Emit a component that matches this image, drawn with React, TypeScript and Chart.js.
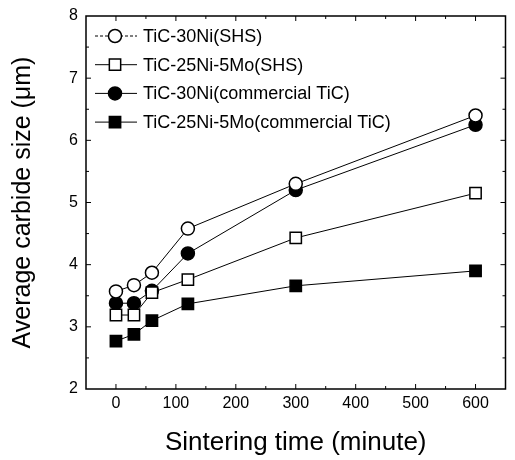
import { useEffect, useRef } from 'react';
import { Chart, registerables } from 'chart.js';

Chart.register(...registerables);

const times = [0, 30, 60, 120, 300, 600];
const ni30Shs = [3.57, 3.67, 3.87, 4.58, 5.3, 6.4];
const mo5Shs = [3.19, 3.19, 3.55, 3.76, 4.43, 5.15];
const ni30Com = [3.38, 3.38, 3.58, 4.18, 5.2, 6.25];
const mo5Com = [2.77, 2.88, 3.1, 3.37, 3.66, 3.9];
const seriesLabels = [
  'TiC-30Ni(SHS)',
  'TiC-25Ni-5Mo(SHS)',
  'TiC-30Ni(commercial TiC)',
  'TiC-25Ni-5Mo(commercial TiC)',
];
const xTicks = [0, 100, 200, 300, 400, 500, 600];
const yTicks = [2, 3, 4, 5, 6, 7, 8];

const FONT = '"Liberation Sans", Arial, Helvetica, sans-serif';

const styles = [
  { style: 'circle', fill: '#ffffff', r: 6.5 },
  { style: 'rect', fill: '#ffffff', r: 8 },
  { style: 'circle', fill: '#000000', r: 6.5 },
  { style: 'rect', fill: '#000000', r: 8 },
];

function drawMarker(ctx: CanvasRenderingContext2D, style: string, fill: string, r: number, x: number, y: number) {
  ctx.save();
  ctx.beginPath();
  if (style === 'circle') {
    ctx.arc(x, y, r, 0, Math.PI * 2);
  } else {
    const s = Math.SQRT1_2 * r;
    ctx.rect(x - s, y - s, 2 * s, 2 * s);
  }
  ctx.fillStyle = fill;
  ctx.fill();
  ctx.lineWidth = 1.5;
  ctx.strokeStyle = '#000';
  ctx.stroke();
  ctx.restore();
}

const framePlugin = {
  id: 'frame',
  afterDatasetsDraw(chart: any) {
    const ctx: CanvasRenderingContext2D = chart.ctx;
    const { left, right, top, bottom } = chart.chartArea;
    const xs = chart.scales.x;
    const ys = chart.scales.y;
    ctx.save();
    ctx.strokeStyle = '#000';
    ctx.lineWidth = 1.5;
    ctx.strokeRect(left, top, right - left, bottom - top);
    ctx.lineWidth = 1;
    ctx.beginPath();
    for (let v = -50; v <= 650; v += 50) {
      const px = xs.getPixelForValue(v);
      if (px <= left + 1 || px >= right - 1) continue;
      const len = v % 100 === 0 ? 5 : 3;
      ctx.moveTo(px, bottom);
      ctx.lineTo(px, bottom - len);
      ctx.moveTo(px, top);
      ctx.lineTo(px, top + len);
    }
    for (let v = 2; v <= 8; v += 0.5) {
      const py = ys.getPixelForValue(v);
      if (py <= top + 1 || py >= bottom - 1) continue;
      const len = Number.isInteger(v) ? 5 : 3;
      ctx.moveTo(left, py);
      ctx.lineTo(left + len, py);
      ctx.moveTo(right, py);
      ctx.lineTo(right - len, py);
    }
    ctx.stroke();

    // legend
    ctx.font = `18px ${FONT}`;
    ctx.fillStyle = '#000';
    ctx.textBaseline = 'middle';
    ctx.textAlign = 'left';
    seriesLabels.forEach((lab, i) => {
      const y = top + 20 + i * 28.7;
      const x0 = left + 9;
      const x1 = left + 51;
      const mx = left + 29;
      ctx.beginPath();
      ctx.lineWidth = 1;
      ctx.strokeStyle = '#000';
      if (i === 0) ctx.setLineDash([3, 2]);
      ctx.moveTo(x0, y);
      ctx.lineTo(x1, y);
      ctx.stroke();
      ctx.setLineDash([]);
      drawMarker(ctx, styles[i].style, styles[i].fill, styles[i].r, mx, y);
      ctx.fillText(lab, left + 57, y + 1);
    });
    ctx.restore();
  },
};

export default function App() {
  const ref = useRef<HTMLCanvasElement>(null);
  useEffect(() => {
    document.body.style.margin = '0';
    const series = [ni30Shs, mo5Shs, ni30Com, mo5Com];
    const chart = new Chart(ref.current!, {
      type: 'line',
      data: {
        datasets: series.map((vals, i) => ({
          label: seriesLabels[i],
          data: times.map((t, j) => ({ x: t, y: vals[j] })),
          borderColor: '#000',
          borderWidth: 1,
          backgroundColor: styles[i].fill,
          pointBackgroundColor: styles[i].fill,
          pointBorderColor: '#000',
          pointBorderWidth: 1.5,
          pointStyle: styles[i].style as any,
          pointRadius: styles[i].r,
          tension: 0,
          fill: false,
        })),
      },
      options: {
        animation: false,
        responsive: true,
        maintainAspectRatio: false,
        layout: { padding: { top: 16, right: 2, left: 0, bottom: 0 } },
        plugins: { legend: { display: false }, tooltip: { enabled: false } },
        scales: {
          x: {
            type: 'linear',
            min: -50,
            max: 650,
            grid: { display: false, drawTicks: false },
            border: { display: false },
            afterBuildTicks: (s: any) => {
              s.ticks = xTicks.map((v) => ({ value: v }));
            },
            afterFit: (s: any) => {
              s.height = 71;
              s.paddingLeft = 0;
              s.paddingRight = 0;
            },
            ticks: {
              color: '#000',
              font: { family: FONT, size: 16 },
              padding: 5,
              maxRotation: 0,
              callback: (v: any) => String(v),
            },
            title: {
              display: true,
              text: 'Sintering time (minute)',
              color: '#000',
              font: { family: FONT, size: 26 },
              padding: { top: 0, bottom: 2 },
            },
          },
          y: {
            type: 'linear',
            min: 2,
            max: 8,
            grid: { display: false, drawTicks: false },
            border: { display: false },
            afterBuildTicks: (s: any) => {
              s.ticks = yTicks.map((v) => ({ value: v }));
            },
            afterFit: (s: any) => {
              s.width = 86;
              s.paddingTop = 0;
              s.paddingBottom = 0;
            },
            ticks: {
              color: '#000',
              font: { family: FONT, size: 16 },
              padding: 8,
              callback: (v: any) => String(v),
            },
            title: {
              display: true,
              text: 'Average carbide size (μm)',
              color: '#000',
              font: { family: FONT, size: 25 },
              padding: { top: 8, bottom: 0 },
            },
          },
        },
      },
      plugins: [framePlugin],
    });
    return () => chart.destroy();
  }, []);
  return (
    <div style={{ position: 'fixed', left: 0, top: 0, width: 515, height: 460, background: '#fff' }}>
      <canvas ref={ref} />
    </div>
  );
}
